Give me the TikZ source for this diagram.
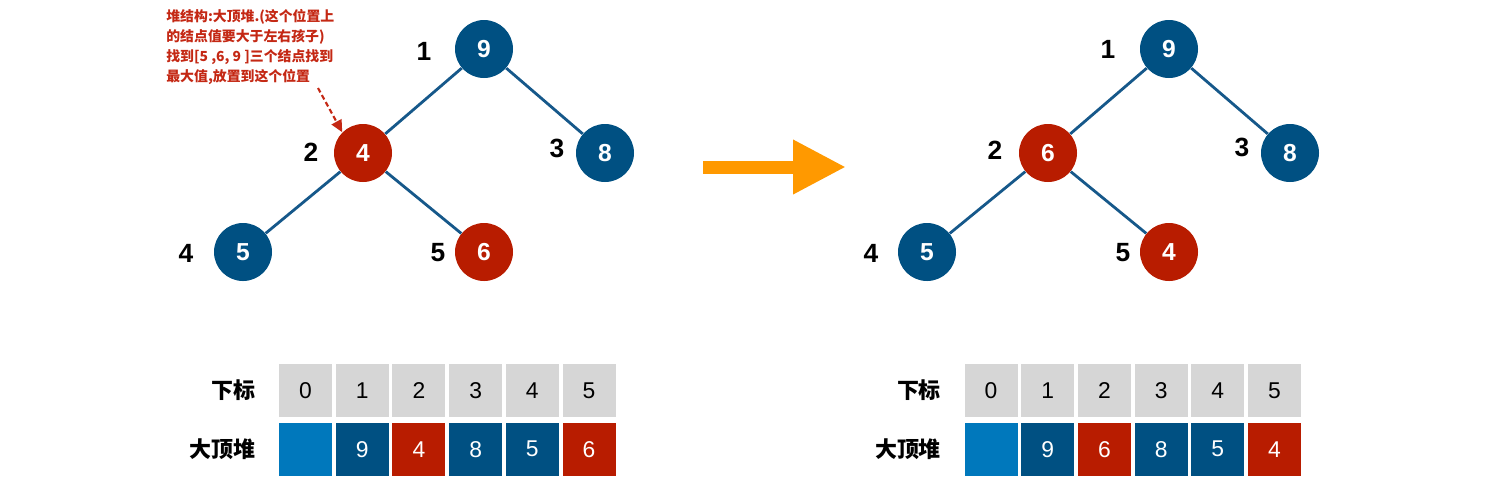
\documentclass[tikz,border=0pt]{standalone}
\usepackage{fontspec}
\setmainfont{Liberation Sans}
\newfontfamily\cjk{Noto Sans CJK SC}
\usetikzlibrary{positioning,arrows.meta}
\definecolor{heapblue}{RGB}{0,80,130}
\definecolor{heapred}{RGB}{184,28,0}
\definecolor{emptyblue}{RGB}{0,120,188}
\definecolor{cellgray}{RGB}{214,214,214}
\definecolor{edgeblue}{RGB}{22,88,138}
\definecolor{notered}{RGB}{196,40,20}
\definecolor{turnorange}{RGB}{255,153,0}

\begin{document}
\begin{tikzpicture}[
  x=0.2mm, y=-0.2mm,
  node distance=0.6mm,
  key/.style={circle, minimum size=11.6mm, inner sep=0pt, text=white,
              font=\fontsize{14}{14}\selectfont\bfseries},
  bkey/.style={key, fill=heapblue},
  rkey/.style={key, fill=heapred},
  slot/.style={font=\fontsize{15}{15}\selectfont\bfseries},
  link/.style={draw=edgeblue, line width=1.6pt},
  idx/.style={fill=cellgray, minimum width=10.6mm, minimum height=10.6mm,
              inner sep=0pt, font=\fontsize{13}{13}\selectfont},
  bval/.style={idx, fill=heapblue, text=white},
  rval/.style={idx, fill=heapred, text=white},
  hole/.style={idx, fill=emptyblue},
  rowhdr/.style={font=\cjk\bfseries\fontsize{12.5}{12.5}\selectfont,
                 anchor=east},
  note/.style={font=\cjk\bfseries\fontsize{7.9}{11.4}\selectfont,
               text=notered, align=left, anchor=north west, inner sep=0pt},
  hint/.style={-{Triangle[length=2.4mm,width=2.2mm]}, line width=1.2pt,
               dash pattern=on 1mm off 0.6mm, notered},
  turn/.style={-{Triangle[length=10.6mm,width=10.2mm]}, line width=2.6mm,
               turnorange}
]
  \useasboundingbox (0,0) rectangle (1500,482);

  % Left tree (before)
  \node[bkey] (a1) at (484,49) {9};
  \node[rkey] (a2) at (363,153) {4};
  \node[bkey] (a3) at (605,153) {8};
  \node[bkey] (a4) at (243,252) {5};
  \node[rkey] (a5) at (484,252) {6};
  \draw[link] (a1) -- (a2);
  \draw[link] (a1) -- (a3);
  \draw[link] (a2) -- (a4);
  \draw[link] (a2) -- (a5);
  \node[slot] (ap1) at (424,51) {1};
  \node[slot] (ap2) at (311,152) {2};
  \node[slot] (ap3) at (557,148) {3};
  \node[slot] (ap4) at (186,253) {4};
  \node[slot] (ap5) at (438,253) {5};

  % Note on the swap
  \node[note] (note) at (166,9)
    {堆结构:大顶堆.(这个位置上\\的结点值要大于左右孩子)\\找到[5 ,6, 9 ]三个结点找到\\最大值,放置到这个位置};
  \coordinate (hintstart) at (318,88);
  \draw[hint] (hintstart) -- (a2.135);

  % Orange arrow
  \coordinate (turnfrom) at (703,167);
  \coordinate (turnto) at (846,167);
  \draw[turn] (turnfrom) -- (turnto);

  % Right tree (after)
  \node[bkey] (b1) at (1169,49) {9};
  \node[rkey] (b2) at (1048,153) {6};
  \node[bkey] (b3) at (1290,153) {8};
  \node[bkey] (b4) at (927,252) {5};
  \node[rkey] (b5) at (1169,252) {4};
  \draw[link] (b1) -- (b2);
  \draw[link] (b1) -- (b3);
  \draw[link] (b2) -- (b4);
  \draw[link] (b2) -- (b5);
  \node[slot] (bp1) at (1108,49) {1};
  \node[slot] (bp2) at (995,150) {2};
  \node[slot] (bp3) at (1242,147) {3};
  \node[slot] (bp4) at (871,253) {4};
  \node[slot] (bp5) at (1123,253) {5};

  % Left array
  \node[idx] (ah0) at (305.5,390.5) {0};
  \node[idx, right=of ah0] (ah1) {1};
  \node[idx, right=of ah1] (ah2) {2};
  \node[idx, right=of ah2] (ah3) {3};
  \node[idx, right=of ah3] (ah4) {4};
  \node[idx, right=of ah4] (ah5) {5};
  \node[hole, below=1mm of ah0] (av0) {};
  \node[bval, right=of av0] (av1) {9};
  \node[rval, right=of av1] (av2) {4};
  \node[bval, right=of av2] (av3) {8};
  \node[bval, right=of av3] (av4) {5};
  \node[rval, right=of av4] (av5) {6};
  \node[rowhdr, left=3.4mm of ah0] (ahdr) {下标};
  \node[rowhdr, left=3.4mm of av0] (avhdr) {大顶堆};

  % Right array
  \node[idx] (bh0) at (991,390.5) {0};
  \node[idx, right=of bh0] (bh1) {1};
  \node[idx, right=of bh1] (bh2) {2};
  \node[idx, right=of bh2] (bh3) {3};
  \node[idx, right=of bh3] (bh4) {4};
  \node[idx, right=of bh4] (bh5) {5};
  \node[hole, below=1mm of bh0] (bv0) {};
  \node[bval, right=of bv0] (bv1) {9};
  \node[rval, right=of bv1] (bv2) {6};
  \node[bval, right=of bv2] (bv3) {8};
  \node[bval, right=of bv3] (bv4) {5};
  \node[rval, right=of bv4] (bv5) {4};
  \node[rowhdr, left=3.4mm of bh0] (bhdr) {下标};
  \node[rowhdr, left=3.4mm of bv0] (bvhdr) {大顶堆};
\end{tikzpicture}
\end{document}
